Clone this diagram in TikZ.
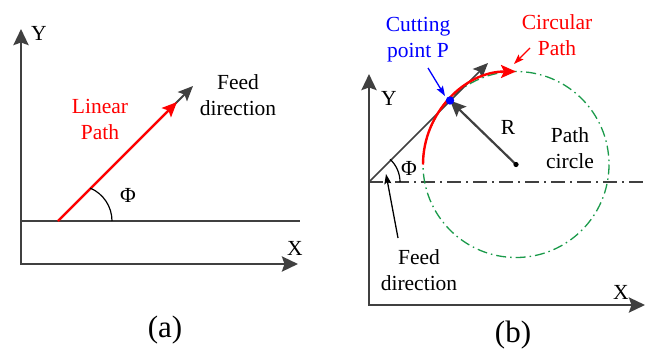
\documentclass[tikz,border=0pt]{standalone}
\usepackage{fontspec}
\setmainfont{Liberation Serif}
\usetikzlibrary{arrows.meta}
\definecolor{axgray}{HTML}{404040}
\definecolor{pathgreen}{HTML}{1A9A4A}
\begin{document}
\begin{tikzpicture}[x=1pt,y=-1pt,
  lbl/.style={font=\fontsize{21.5}{26}\selectfont, align=center, inner sep=0pt},
  captxt/.style={font=\fontsize{31}{36}\selectfont, inner sep=0pt},
  axisline/.style={draw=axgray, line width=2.8pt, arrows={Stealth[length=16pt,width=15pt,inset=2.5pt]-Stealth[length=16pt,width=15pt,inset=2.5pt]}},
  grayarrow/.style={draw=axgray, line width=2pt, -{Stealth[length=15pt,width=13pt,inset=3pt]}},
  redarrow/.style={draw=red, line width=2.4pt, -{Stealth[length=15pt,width=13pt,inset=3pt]}},
  pointer/.style={line width=1.3pt, -{Stealth[length=10pt,width=7pt,inset=2pt]}},
  dashdot/.style={dash pattern=on 14pt off 5pt on 2pt off 5pt},
  greendd/.style={draw=pathgreen, line width=1.3pt, dash pattern=on 10pt off 4pt on 1.5pt off 4pt}
]
\useasboundingbox (0,0) rectangle (647,351);

% ---------------- panel (a) ----------------
\coordinate (aO) at (21,264);
\coordinate (aYt) at (21,29);
\coordinate (aXt) at (298,264);
\draw[axisline] (aYt) -- (aO) -- (aXt);
\coordinate (aL) at (21,221);
\coordinate (aR) at (300,221);
\draw[draw=axgray, line width=2.2pt] (aL) -- (aR);
\coordinate (aS) at (58,221);
\coordinate (aG) at (193,86);
\coordinate (aRt) at (177,102);
\draw[grayarrow] (aS) -- (aG);
\draw[redarrow] (aS) -- (aRt);
\draw[line width=1.2pt] (112,221) arc[start angle=0, end angle=-67, radius=35.75];
\node[lbl] (aY) at (39,33) {Y};
\node[lbl] (aX) at (295,248) {X};
\node[lbl, text=red] (alin) at (100,119) {Linear\\Path};
\node[lbl] (afeed) at (238,95) {Feed\\direction};
\node[lbl] (aphi) at (128,195) {Φ};
\node[captxt] (acap) at (165,330) {(a)};

% ---------------- panel (b) ----------------
\coordinate (bO) at (369,305);
\coordinate (bYt) at (369,74);
\coordinate (bXt) at (645,305);
\draw[axisline] (bYt) -- (bO) -- (bXt);
\coordinate (bH) at (369,182);
\coordinate (bHe) at (643,182);
\draw[draw=axgray, line width=1.6pt, dashdot] (bH) -- (bHe);
\coordinate (bC) at (516,164.5);
\draw[greendd] (bC) circle (93);
\coordinate (bP) at (450,100.5);
\coordinate (bT) at (488,63);
\draw[draw=axgray, line width=1.6pt, -{Stealth[length=15pt,width=13pt,inset=3pt]}] (bH) -- (bT);
\draw[redarrow] (423,164.5) arc[start angle=180, end angle=270, radius=93];
\draw[draw=axgray, line width=2.2pt, -{Stealth[length=16pt,width=14pt,inset=3pt]}] (bC) -- (bP);
\fill (bC) circle (2.6);
\fill[blue] (bP) circle (4.2);
\draw[line width=1.2pt] (400,182) arc[start angle=0, end angle=-47, radius=31];
\node[lbl] (bY) at (389,98) {Y};
\node[lbl] (bX) at (621,292) {X};
\node[lbl, text=blue] (bcut) at (418,40) {Cutting\\point P};
\node[lbl, text=red] (bcirc) at (557,35) {Circular\\Path};
\node[lbl] (bR) at (508,127) {R};
\node[lbl] (bpc) at (570,148) {Path\\circle};
\node[lbl] (bphi) at (409,168) {Φ};
\node[lbl] (bfeed) at (419,270) {Feed\\direction};
\node[captxt] (bcap) at (513,335) {(b)};
% pointers
\coordinate (bf1) at (398,238);
\coordinate (bf2) at (386,174);
\draw[pointer] (bf1) -- (bf2);
\coordinate (bb1) at (428,68);
\coordinate (bb2) at (445,96);
\draw[pointer, blue] (bb1) -- (bb2);
\coordinate (br1) at (530,48);
\coordinate (br2) at (514,64);
\draw[pointer, red] (br1) -- (br2);
\end{tikzpicture}
\end{document}
